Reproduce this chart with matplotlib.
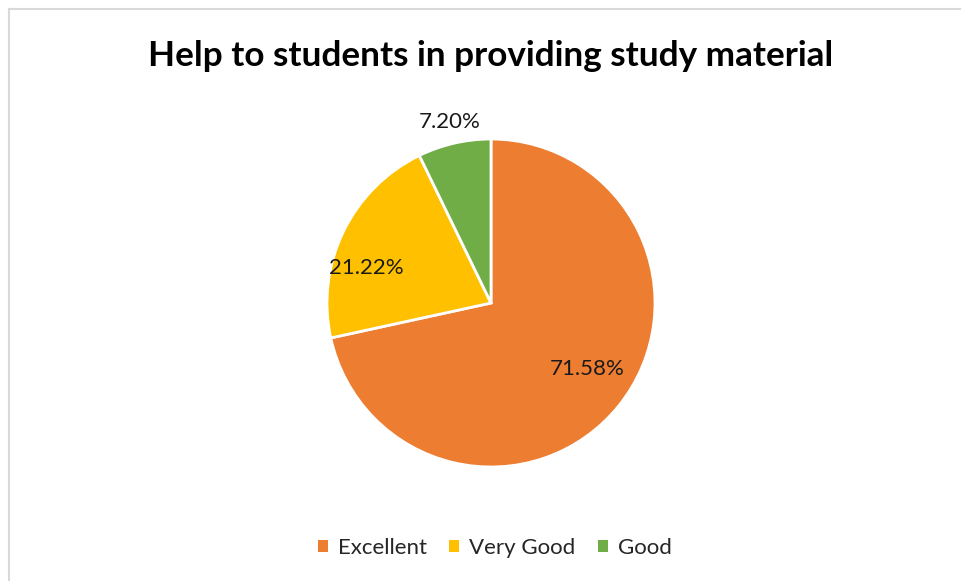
import numpy as np
import matplotlib
matplotlib.use("Agg")
import matplotlib.pyplot as plt
from matplotlib.lines import Line2D
from matplotlib.patches import Patch

categories = ["Excellent", "Very Good", "Good"]
values = [71.58, 21.22, 7.20]
colors = ["#ED7D31", "#FFC000", "#70AD47"]
label_dist = [0.71, 0.79, 1.13]
label_ang_shift = [4.5, 10.0, 0.0]

W, H = 961, 581
fig = plt.figure(figsize=(W / 100, H / 100), dpi=100)
fig.patch.set_facecolor("white")

# chart border
fig.add_artist(Line2D([9 / W, 9 / W], [0, 1 - 9 / H], color="#D9D9D9", lw=1.5))
fig.add_artist(Line2D([9 / W, 1], [1 - 9 / H, 1 - 9 / H], color="#D9D9D9", lw=1.5))

font = "Lato"
fig.text(491 / W, 1 - 56 / H, "Help to students in providing study material",
         ha="center", va="center", fontsize=25.3, fontweight="bold", family=font,
         color="black")

cx, cy, r = 491, 303, 164
ax = fig.add_axes([(cx - r) / W, 1 - (cy + r) / H, 2 * r / W, 2 * r / H])
wedges, _ = ax.pie(values, colors=colors, startangle=90, counterclock=False,
                   wedgeprops=dict(edgecolor="white", linewidth=2), radius=1)
ax.set_xlim(-1, 1)
ax.set_ylim(-1, 1)
ax.set_aspect("equal")
ax.axis("off")

for w, v, d, s in zip(wedges, values, label_dist, label_ang_shift):
    ang = np.deg2rad((w.theta1 + w.theta2) / 2 + s)
    ax.text(d * np.cos(ang), d * np.sin(ang), f"{v:.2f}%", ha="center", va="center",
            fontsize=16, family=font, color="#1a1a1a")

handles = [Patch(facecolor=c, edgecolor="none") for c in colors]
fig.legend(handles, categories, loc="center", bbox_to_anchor=(495 / W, 1 - 548 / H),
           ncol=3, frameon=False, prop=dict(family=font, size=16),
           handlelength=0.45, handleheight=0.45, handletextpad=0.45, columnspacing=1.0,
           labelcolor="#262626")

fig.savefig("out.png", dpi=100, facecolor="white")
